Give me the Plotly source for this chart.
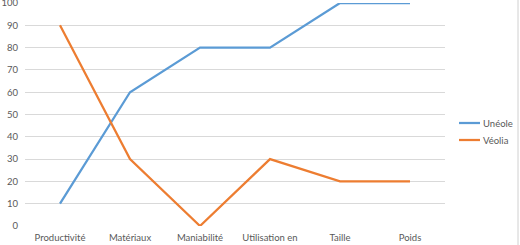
import plotly.graph_objects as go

categories = ["Productivité", "Matériaux", "Maniabilité", "Utilisation en", "Taille", "Poids"]
uneole = [10, 60, 80, 80, 100, 100]
veolia = [90, 30, 0, 30, 20, 20]
y_ticks = [0, 10, 20, 30, 40, 50, 60, 70, 80, 90, 100]
series_names = ["Unéole", "Véolia"]
series_colors = ["#5B9BD5", "#ED7D31"]

text_color = "#595959"
font = dict(family="Lato, Open Sans, Liberation Sans, sans-serif", size=9.5, color=text_color)

# plot area in pixels: x 25..445, y 3..226
L, R, T, B = 25, 75, 3, 19
PW, PH = 520 - L - R, 245 - T - B

def px_x(x):
    return (x - L) / PW

def px_y(y):
    return (245 - B - y) / PH

fig = go.Figure()
for name, vals, col in zip(series_names, [uneole, veolia], series_colors):
    fig.add_trace(go.Scatter(x=categories, y=vals, mode="lines", name=name,
                             line=dict(color=col, width=2.25), cliponaxis=False))

fig.update_layout(
    width=520, height=245,
    margin=dict(l=L, r=R, t=T, b=B, autoexpand=False),
    paper_bgcolor="white", plot_bgcolor="white",
    font=font,
    showlegend=False,
    xaxis=dict(type="category", range=[-0.5, 5.5], showgrid=False, zeroline=False,
               showline=False, ticks="", tickfont=font, ticklabelstandoff=4,
               automargin=False),
    yaxis=dict(range=[0, 100], tickvals=y_ticks, showgrid=True, gridcolor="#D9D9D9",
               gridwidth=1, zeroline=False, showline=False, ticks="", tickfont=font,
               ticklabelstandoff=6, ticklabeloverflow="allow", automargin=False),
)

# manual legend
for i, (name, col) in enumerate(zip(series_names, series_colors)):
    yy = 123 + 17 * i
    fig.add_shape(type="line", xref="paper", yref="paper",
                  x0=px_x(459), x1=px_x(480), y0=px_y(yy), y1=px_y(yy),
                  line=dict(color=col, width=2.25))
    fig.add_annotation(xref="paper", yref="paper", x=px_x(481), y=px_y(yy),
                       text=name, showarrow=False, xanchor="left", yanchor="middle",
                       font=font)

# chart border line at right edge
fig.add_shape(type="line", xref="paper", yref="paper", x0=px_x(518), x1=px_x(518),
              y0=px_y(245), y1=px_y(0), line=dict(color="#D0D0D0", width=1))

fig.write_html("out.html")
